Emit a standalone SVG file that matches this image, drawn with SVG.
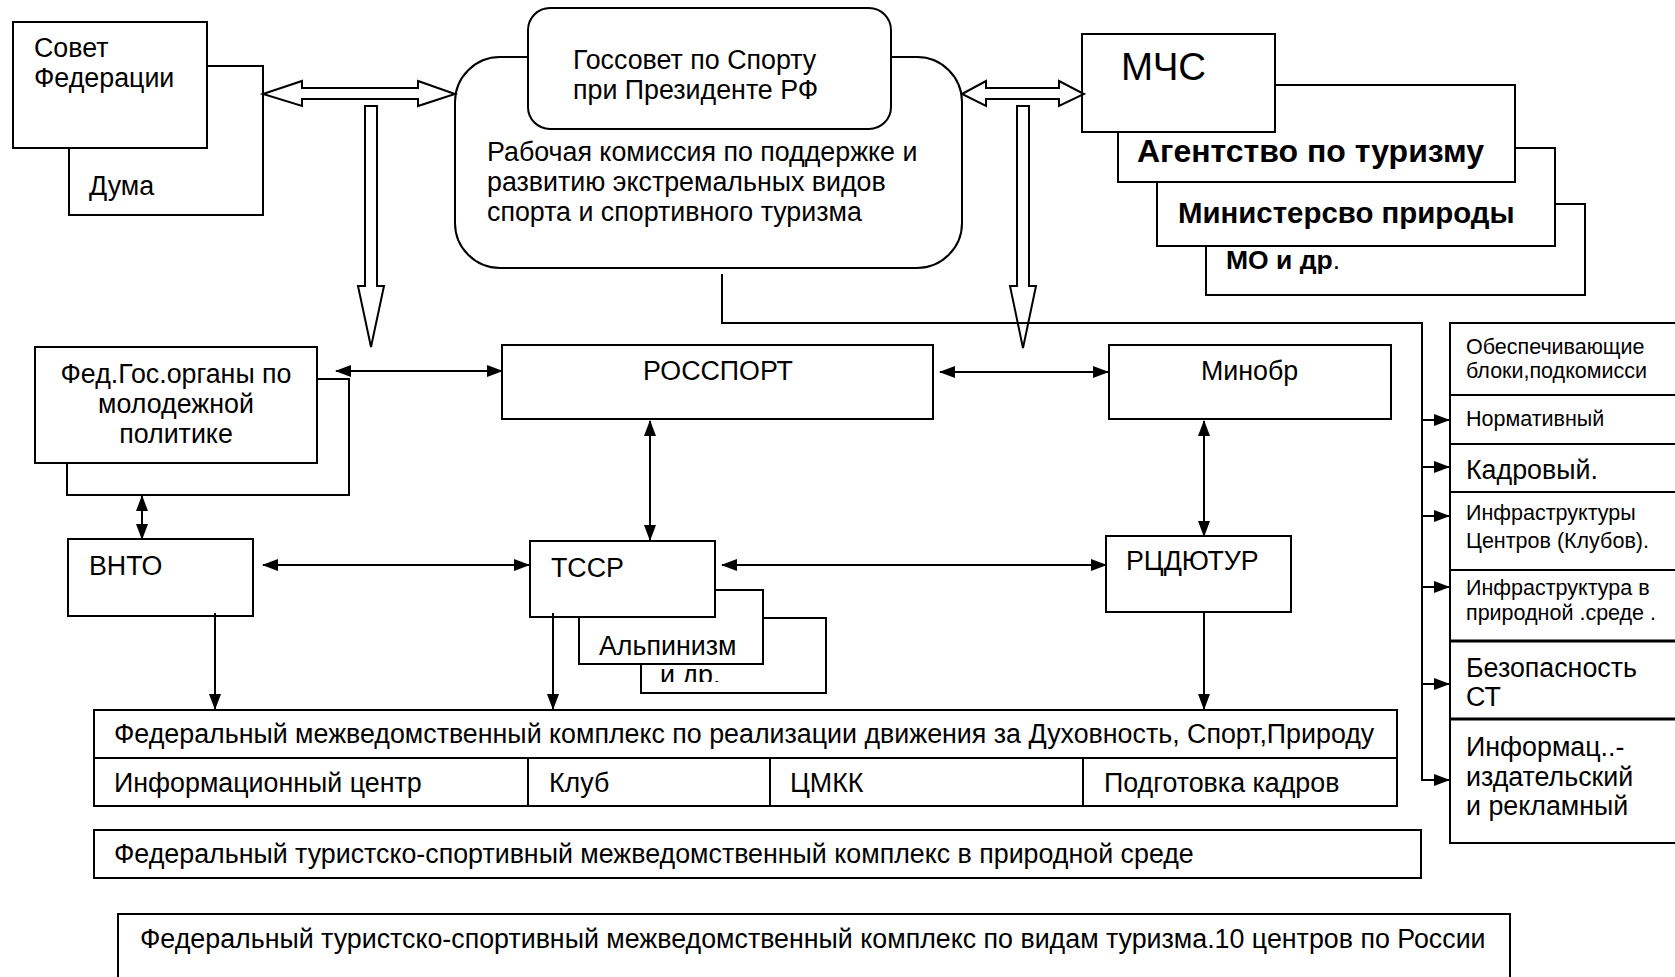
<svg xmlns="http://www.w3.org/2000/svg" width="1675" height="977" viewBox="0 0 1675 977">
<style>
.b{fill:#fff;stroke:#000;stroke-width:2}
.t{font-family:"Liberation Sans",Arial,sans-serif;font-size:26.8px;fill:#000}
.s{font-size:21.5px}
.bold{font-weight:bold}
.c{fill:none;stroke:#000;stroke-width:2}
.h{fill:#fff;stroke:#000;stroke-width:2;stroke-linejoin:miter}
</style>
<defs>
<marker id="ah" viewBox="0 0 16 12" refX="15" refY="6" markerWidth="16" markerHeight="12" markerUnits="userSpaceOnUse" orient="auto-start-reverse">
<path d="M0,0 L16,6 L0,12 Z" fill="#000"/>
</marker>
<clipPath id="clipdr"><rect x="641" y="600" width="185" height="82"/></clipPath>
</defs>
<rect width="1675" height="977" fill="#fff"/>

<g id="duma">
<rect class="b" x="69" y="66" width="194" height="149"/>
<text class="t" x="89" y="195">Дума</text>
</g>
<g id="sovet">
<rect class="b" x="13" y="22" width="194" height="126"/>
<text class="t" x="34" y="57">Совет</text>
<text class="t" x="34" y="87">Федерации</text>
</g>

<g id="rabkom">
<rect class="b" x="455" y="57" width="507" height="211" rx="45" ry="45"/>
<text class="t" x="487" y="161">Рабочая комиссия по поддержке и</text>
<text class="t" x="487" y="191">развитию экстремальных видов</text>
<text class="t" x="487" y="221">спорта и спортивного туризма</text>
</g>
<g id="gossovet">
<rect class="b" x="528" y="8" width="363" height="121" rx="22" ry="22"/>
<text class="t" x="573" y="69">Госсовет по Спорту</text>
<text class="t" x="573" y="99">при Президенте РФ</text>
</g>

<g id="mo">
<rect class="b" x="1206" y="204" width="379" height="91"/>
<text class="t" x="1226" y="269" style="font-size:26.5px"><tspan class="bold">МО и др</tspan>.</text>
</g>
<g id="minprirody">
<rect class="b" x="1157" y="148" width="398" height="98"/>
<text class="t bold" x="1178" y="223" style="font-size:29.4px">Министерсво природы</text>
</g>
<g id="agentstvo">
<rect class="b" x="1118" y="85" width="397" height="97"/>
<text class="t bold" x="1137" y="162" style="font-size:32px">Агентство по туризму</text>
</g>
<g id="mchs">
<rect class="b" x="1082" y="34" width="193" height="98"/>
<text class="t" x="1121" y="80" style="font-size:38.5px">МЧС</text>
</g>

<g id="fedgos-shadow">
<rect class="b" x="67" y="379" width="282" height="116"/>
</g>
<g id="fedgos">
<rect class="b" x="35" y="347" width="282" height="116"/>
<text class="t" x="176" y="383" text-anchor="middle">Фед.Гос.органы по</text>
<text class="t" x="176" y="413" text-anchor="middle">молодежной</text>
<text class="t" x="176" y="443" text-anchor="middle">политике</text>
</g>

<g id="rossport">
<rect class="b" x="502" y="345" width="431" height="74"/>
<text class="t" x="643" y="380">РОССПОРТ</text>
</g>
<g id="minobr">
<rect class="b" x="1109" y="345" width="282" height="74"/>
<text class="t" x="1201" y="380">Минобр</text>
</g>

<g id="vnto">
<rect class="b" x="68" y="539" width="185" height="77"/>
<text class="t" x="89" y="575">ВНТО</text>
</g>
<g id="i-dr">
<rect class="b" x="641" y="618" width="185" height="75"/>
<text class="t" x="660" y="684" clip-path="url(#clipdr)">и др.</text>
</g>
<g id="alpinizm">
<rect class="b" x="579" y="590" width="184" height="74"/>
<text class="t" x="599" y="655">Альпинизм</text>
</g>
<g id="tssr">
<rect class="b" x="530" y="541" width="185" height="76"/>
<text class="t" x="551" y="577">ТССР</text>
</g>
<g id="rcdyutur">
<rect class="b" x="1106" y="536" width="185" height="76"/>
<text class="t" x="1126" y="570">РЦДЮТУР</text>
</g>

<g id="complex1">
<rect class="b" x="94" y="710" width="1303" height="96"/>
<line class="c" x1="94" y1="758" x2="1397" y2="758"/>
<line class="c" x1="528" y1="758" x2="528" y2="806"/>
<line class="c" x1="770" y1="758" x2="770" y2="806"/>
<line class="c" x1="1083" y1="758" x2="1083" y2="806"/>
<text class="t" x="114" y="743">Федеральный межведомственный комплекс по реализации движения за Духовность, Спорт,Природу</text>
<text class="t" x="114" y="792">Информационный центр</text>
<text class="t" x="549" y="792">Клуб</text>
<text class="t" x="790" y="792">ЦМКК</text>
<text class="t" x="1104" y="792">Подготовка кадров</text>
</g>
<g id="complex2">
<rect class="b" x="94" y="830" width="1327" height="48"/>
<text class="t" x="114" y="863">Федеральный туристско-спортивный межведомственный комплекс в природной среде</text>
</g>
<g id="complex3">
<rect class="b" x="118" y="914" width="1392" height="80"/>
<text class="t" x="140" y="948">Федеральный туристско-спортивный межведомственный комплекс по видам туризма.10 центров по России</text>
</g>

<g id="blocks">
<rect class="b" x="1450" y="323" width="240" height="520"/>
<line class="c" x1="1450" y1="395" x2="1675" y2="395"/>
<line class="c" x1="1450" y1="444" x2="1675" y2="444"/>
<line class="c" x1="1450" y1="492" x2="1675" y2="492"/>
<line class="c" x1="1450" y1="570" x2="1675" y2="570"/>
<line class="c" x1="1450" y1="641" x2="1675" y2="641" style="stroke-width:3"/>
<line class="c" x1="1450" y1="719" x2="1675" y2="719" style="stroke-width:3"/>
<text class="t s" x="1466" y="354">Обеспечивающие</text>
<text class="t s" x="1466" y="378">блоки,подкомисси</text>
<text class="t s" x="1466" y="426">Нормативный</text>
<text class="t" x="1466" y="479">Кадровый.</text>
<text class="t s" x="1466" y="520">Инфраструктуры</text>
<text class="t s" x="1466" y="548">Центров (Клубов).</text>
<text class="t s" x="1466" y="595">Инфраструктура в</text>
<text class="t s" x="1466" y="620">природной .среде .</text>
<text class="t" x="1466" y="677">Безопасность</text>
<text class="t" x="1466" y="706">СТ</text>
<text class="t" x="1466" y="756">Информац..-</text>
<text class="t" x="1466" y="786">издательский</text>
<text class="t" x="1466" y="815">и рекламный</text>
</g>

<g id="connectors">
<polygon class="h" points="263,94 302,81 302,88 418,88 418,81 455,94 418,106 418,99 302,99 302,106"/>
<polygon class="h" points="365,106 377,106 377,286 384,286 371,347 358,286 365,286"/>
<polygon class="h" points="962,94 986,81 986,88 1059,88 1059,81 1084,94 1059,106 1059,99 986,99 986,106"/>
<polygon class="h" points="1017,106 1029,106 1029,286 1036,286 1023,348 1010,286 1017,286"/>

<path class="c" d="M722,274 V323 H1422 V780 H1449" marker-end="url(#ah)"/>
<line class="c" x1="1422" y1="420" x2="1449" y2="420" marker-end="url(#ah)"/>
<line class="c" x1="1422" y1="467" x2="1449" y2="467" marker-end="url(#ah)"/>
<line class="c" x1="1422" y1="516" x2="1449" y2="516" marker-end="url(#ah)"/>
<line class="c" x1="1422" y1="587" x2="1449" y2="587" marker-end="url(#ah)"/>
<line class="c" x1="1422" y1="684" x2="1449" y2="684" marker-end="url(#ah)"/>

<line class="c" x1="336" y1="371" x2="502" y2="371" marker-start="url(#ah)" marker-end="url(#ah)"/>
<line class="c" x1="940" y1="372" x2="1108" y2="372" marker-start="url(#ah)" marker-end="url(#ah)"/>
<line class="c" x1="650" y1="421" x2="650" y2="540" marker-start="url(#ah)" marker-end="url(#ah)"/>
<line class="c" x1="1204" y1="421" x2="1204" y2="536" marker-start="url(#ah)" marker-end="url(#ah)"/>
<line class="c" x1="142" y1="496" x2="142" y2="539" marker-start="url(#ah)" marker-end="url(#ah)"/>
<line class="c" x1="263" y1="565" x2="529" y2="565" marker-start="url(#ah)" marker-end="url(#ah)"/>
<line class="c" x1="722" y1="565" x2="1106" y2="565" marker-start="url(#ah)" marker-end="url(#ah)"/>
<line class="c" x1="215" y1="613" x2="215" y2="709" marker-end="url(#ah)"/>
<line class="c" x1="553" y1="613" x2="553" y2="709" marker-end="url(#ah)"/>
<line class="c" x1="1204" y1="612" x2="1204" y2="709" marker-end="url(#ah)"/>
</g>
</svg>
